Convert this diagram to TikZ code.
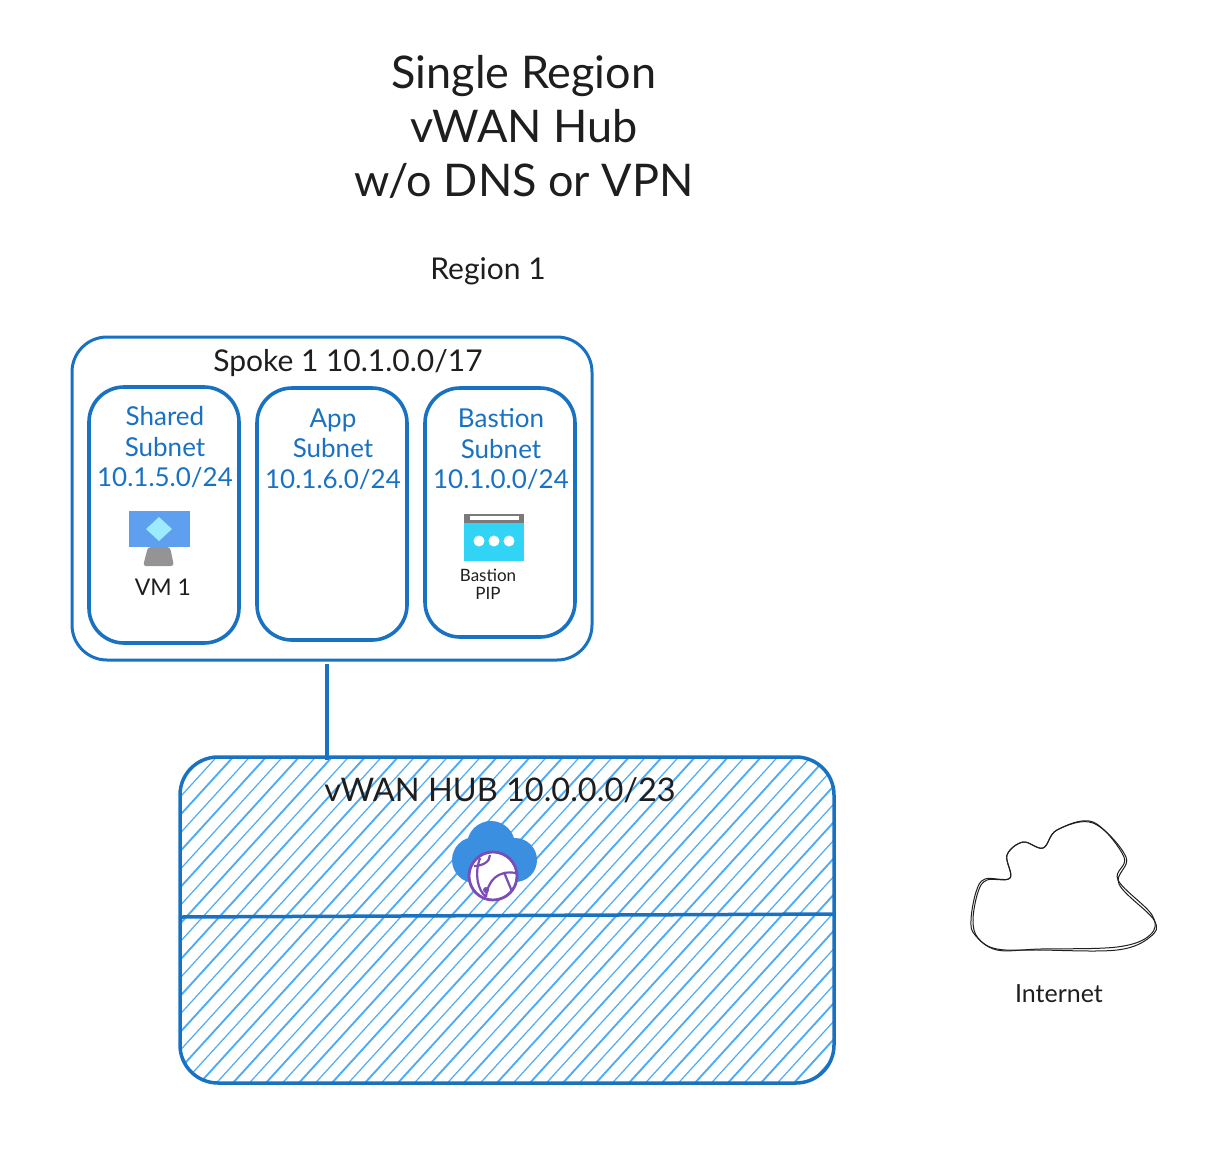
\documentclass[tikz,border=0pt]{standalone}
\usepackage{fontspec}
\setmainfont{Lato}
\definecolor{sketchblue}{HTML}{1971C2}
\definecolor{hatchblue}{HTML}{4DABF7}
\definecolor{inkblack}{HTML}{1E1E1E}
\definecolor{vmblue}{HTML}{5EA0EF}
\definecolor{vmice}{HTML}{9CEBFF}
\definecolor{standgray}{HTML}{949494}
\definecolor{bastioncyan}{HTML}{32D4F5}
\definecolor{barpgray}{HTML}{7A7A7A}
\definecolor{hubcloud}{HTML}{3A8FE0}
\definecolor{globepurple}{HTML}{7A4DB8}
\tikzset{
  spokebox/.style={draw=sketchblue, line width=3pt, rounded corners=35pt, inner sep=0pt, outer sep=0pt},
  subnetbox/.style={spokebox, line width=3.6pt, minimum width=150pt},
  subnetlabel/.style={text=sketchblue, font=\fontsize{26}{30.5}\selectfont, align=center, anchor=north},
  inklabel/.style={text=inkblack, align=center},
  hatchline/.style={draw=hatchblue, line width=1.2pt},
  hatchheavy/.style={draw=hatchblue, line width=1.9pt},
  sketchline/.style={draw=inkblack, line width=1pt}
}
\begin{document}
\begin{tikzpicture}[x=1pt,y=-1pt]
  \useasboundingbox (0,0) rectangle (1229,1168);

  \node[inklabel, font=\fontsize{45}{54}\selectfont] (title) at (524,127) {Single Region\\vWAN Hub\\w/o DNS or VPN};
  \node[inklabel, font=\fontsize{30}{36}\selectfont] (region) at (488,271) {Region 1};

  \node[spokebox, minimum width=520pt, minimum height=323pt] (spoke) at (332,498.5) {};
  \node[inklabel, font=\fontsize{30}{36}\selectfont] (spokelabel) at (348,363) {Spoke 1 10.1.0.0/17};

  \node[subnetbox, minimum height=256pt] (shared) at (164,515) {};
  \node[subnetbox, minimum height=252pt] (app) at (332,514) {};
  \node[subnetbox, minimum height=249pt] (bastion) at (500,512.5) {};
  \node[subnetlabel] (sharedlabel) at (165,403) {Shared\\Subnet\\10.1.5.0/24};
  \node[subnetlabel] (applabel) at (333,405) {App\\Subnet\\10.1.6.0/24};
  \node[subnetlabel] (bastionlabel) at (501,405) {Bastion\\Subnet\\10.1.0.0/24};

  % vm icon
  \fill[standgray, rounded corners=3pt] (148,547) -- (170,547) -- (174,566) -- (143,566) -- cycle;
  \fill[vmblue] (129,511) rectangle (190,547);
  \fill[vmice] (159,517) -- (172,529) -- (159,541) -- (146,529) -- cycle;
  \node[inklabel, font=\fontsize{23}{28}\selectfont] (vmlabel) at (163,587) {VM 1};

  % bastion icon
  \fill[bastioncyan] (464,514) rectangle (524,561);
  \fill[barpgray] (464,514) rectangle (524,523);
  \fill[white] (470,516) rectangle (519,520);
  \foreach \dotx in {479,494,509}
    \fill[white] (\dotx,541) circle (5.5);
  \node[inklabel, font=\fontsize{17}{18}\selectfont] (bastionpip) at (488,584.5) {Bastion\\PIP};

  % hub
  \node[minimum width=654pt, minimum height=326pt, inner sep=0pt, outer sep=0pt] (hub) at (507,920) {};
  \coordinate (hubtop) at (327,760);
  \begin{scope}
    \clip[rounded corners=38pt] (hub.south west) rectangle (hub.north east);
    \foreach \hatchx in {-120,-87,...,900}
      \draw[hatchline] (\hatchx,1090) -- (\hatchx+310,750);
    \foreach \hatchx in {-103.5,-70.5,...,900}
      \draw[hatchheavy] (\hatchx,1090) -- (\hatchx+310,750);
  \end{scope}
  \draw[spokebox, line width=3.5pt, rounded corners=38pt] (hub.south west) rectangle (hub.north east);
  \draw[draw=sketchblue, line width=3.5pt] ([yshift=-4pt]spoke.south -| hubtop) -- (hubtop);
  \draw[draw=sketchblue, line width=3.5pt] (hub.west |- 0,917) -- (hub.east |- 0,914);
  \node[inklabel, font=\fontsize{32.5}{38}\selectfont] (hublabel) at (500,790) {vWAN HUB 10.0.0.0/23};

  % hub cloud and globe
  \fill[hubcloud] (491,845) circle (24) (475,860) circle (23) (515,860) circle (22);
  \fill[hubcloud] (475,858) rectangle (515,882);
  \draw[globepurple, line width=2.8pt, fill=white] (493,876) circle (24);
  \draw[globepurple, line width=2.2pt] (480,858) .. controls (474,875) and (478,890) .. (486,897)
    (474,866) .. controls (482,866) and (490,862) .. (490,855)
    (486,897) .. controls (488,880) and (498,870) .. (516,873)
    (504,872) .. controls (507,880) and (510,886) .. (512,892);
  \fill[globepurple] (486,890) circle (3);

  % internet
  \draw[sketchline] plot[smooth cycle, tension=0.6] coordinates {(997,950) (975,935) (971,920) (976,892) (985,879) (1010,878) (1007,855) (1023,842) (1043,848) (1057,830) (1093,822) (1124,857) (1118,880) (1152,915) (1150,935) (1117,947) (1040,949)};
  \draw[sketchline] plot[smooth cycle, tension=0.6] coordinates {(997,949) (978,938) (973,920) (978,892) (987,880) (1010,878) (1007,855) (1023,842) (1043,848) (1057,830) (1093,823) (1126,857) (1119,884) (1154,920) (1150,937) (1117,950) (1040,950)};
  \node[inklabel, font=\fontsize{25}{28}\selectfont] (internet) at (1059,994) {Internet};
\end{tikzpicture}
\end{document}
